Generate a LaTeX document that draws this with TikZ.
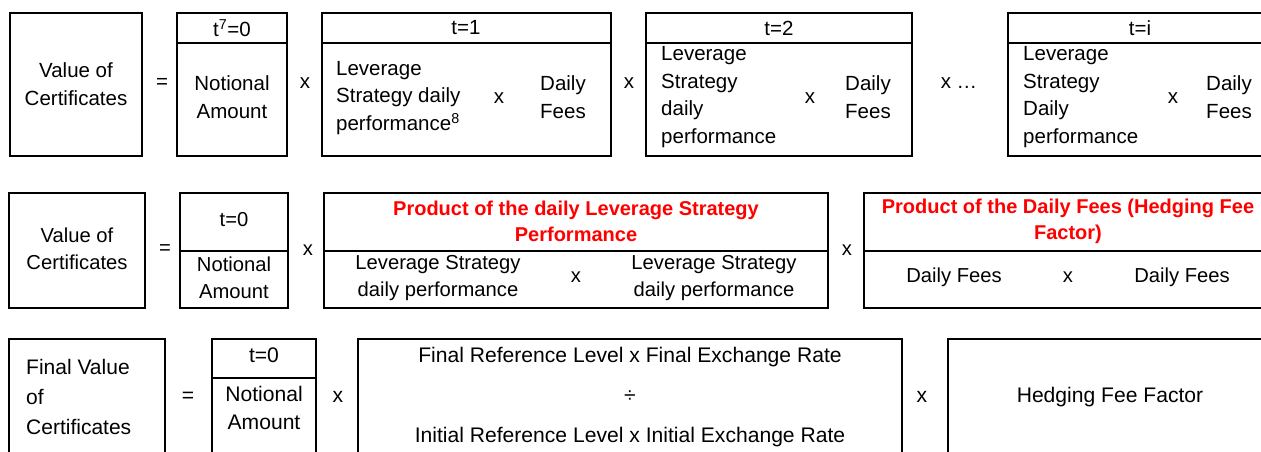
\documentclass[tikz,border=0pt]{standalone}
\usepackage{fontspec}
\setmainfont{Liberation Sans}
\definecolor{hdrred}{RGB}{255,0,0}
\tikzset{
  box/.style={draw=black, line width=1.8pt},
  txt/.style={font=\fontsize{20.5}{27.5}\selectfont, inner sep=0pt, align=center},
  txtb/.style={font=\fontsize{20.2}{27.2}\selectfont, inner sep=0pt, align=center},
  txtc/.style={font=\fontsize{21.1}{27.5}\selectfont, inner sep=0pt, align=center},
  ltxt/.style={font=\fontsize{20.5}{27.8}\selectfont, inner sep=0pt, align=left, anchor=west},
  redtxt/.style={font=\fontsize{20}{26}\selectfont\bfseries, text=hdrred, inner sep=0pt, align=center},
}
\begin{document}
\begin{tikzpicture}[x=1pt,y=-1pt]
\useasboundingbox (0,0) rectangle (1261,452);
\clip (0,0) rectangle (1261,452);
% ---------------- Row 1 ----------------
\draw[box] (10,13) rectangle (142,156);
\node[txt] (r1a) at (76,84) {Value of\\Certificates};
\node[txt] (r1eq) at (162,83) {=};
\draw[box] (177,13) rectangle (287,156);
\draw[box] (177,43) -- (287,43);
\node[txt] (r1t0) at (232,28) {t\textsuperscript{7}=0};
\node[txt] (r1n) at (232,97) {Notional\\Amount};
\node[txt] (r1x1) at (305,83) {x};
\draw[box] (322,13) rectangle (611,156);
\draw[box] (322,43) -- (611,43);
\node[txt] (r1t1) at (466,28) {t=1};
\node[ltxt] (r1l1) at (336,98) {Leverage\\Strategy daily\\performance\textsuperscript{8}};
\node[txt] (r1x2) at (499,98) {x};
\node[txt] (r1f1) at (563,97) {Daily\\Fees};
\node[txt] (r1x3) at (629,83) {x};
\draw[box] (646,13) rectangle (912,156);
\draw[box] (646,43) -- (912,43);
\node[txt] (r1t2) at (779,28) {t=2};
\node[ltxt] (r1l2) at (661,97) {Leverage\\Strategy\\daily\\performance};
\node[txt] (r1x4) at (810,98) {x};
\node[txt] (r1f2) at (868,97) {Daily\\Fees};
\node[txt] (r1x5) at (959,83) {x …};
\draw[box] (1008,13) rectangle (1272,156);
\draw[box] (1008,43) -- (1272,43);
\node[txt] (r1ti) at (1140,28) {t=i};
\node[ltxt] (r1li) at (1023,97) {Leverage\\Strategy\\Daily\\performance};
\node[txt] (r1x6) at (1173,98) {x};
\node[txt] (r1fi) at (1229,97) {Daily\\Fees};
% ---------------- Row 2 ----------------
\draw[box] (9,193) rectangle (145,308);
\node[txtb] (r2a) at (77,249) {Value of\\Certificates};
\node[txtb] (r2eq) at (165,250) {=};
\draw[box] (180,193) rectangle (288,308);
\draw[box] (180,251) -- (288,251);
\node[txtb] (r2t0) at (234,220) {t=0};
\node[txtb] (r2n) at (234,278) {Notional\\Amount};
\node[txtb] (r2x1) at (308,250) {x};
\draw[box] (324,193) rectangle (828,308);
\draw[box] (324,251) -- (828,251);
\node[redtxt] (r2h1) at (576,221) {Product of the daily Leverage Strategy\\Performance};
\node[txtb] (r2l1) at (438,278) {Leverage Strategy\\daily performance};
\node[txtb] (r2x2) at (576,277) {x};
\node[txtb] (r2l2) at (714,278) {Leverage Strategy\\daily performance};
\node[txtb] (r2x3) at (847,250) {x};
\draw[box] (864,193) rectangle (1272,308);
\draw[box] (864,251) -- (1272,251);
\node[redtxt] (r2h2) at (1068,221) {Product of the Daily Fees (Hedging Fee\\Factor)};
\node[txtb] (r2f1) at (954,277) {Daily Fees};
\node[txtb] (r2x4) at (1068,277) {x};
\node[txtb] (r2f2) at (1182,277) {Daily Fees};
% ---------------- Row 3 ----------------
\draw[box] (9,339) rectangle (165,470);
\node[ltxt, font=\fontsize{21}{30}\selectfont] (r3a) at (26,397) {Final Value\\of\\Certificates};
\node[txtc] (r3eq) at (188,397) {=};
\draw[box] (212,339) rectangle (316,470);
\draw[box] (212,378) -- (316,378);
\node[txtc] (r3t0) at (264,355) {t=0};
\node[txtc] (r3n) at (264,408) {Notional\\Amount};
\node[txtc] (r3x1) at (338,397) {x};
\draw[box] (358,339) rectangle (902,470);
\node[txtc] (r3num) at (630,357) {Final Reference Level x Final Exchange Rate};
\node[txtc] (r3div) at (630,397) {÷};
\node[txtc] (r3den) at (630,437) {Initial Reference Level x Initial Exchange Rate};
\node[txtc] (r3x2) at (922,397) {x};
\draw[box] (948,339) rectangle (1272,470);
\node[txtc] (r3h) at (1110,397) {Hedging Fee Factor};
\end{tikzpicture}
\end{document}
